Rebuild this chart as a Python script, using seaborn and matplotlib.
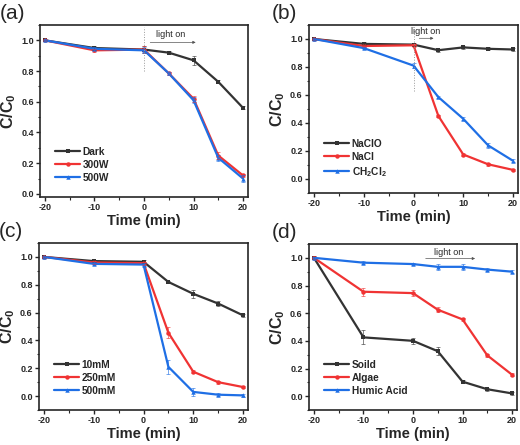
import numpy as np
import pandas as pd
import matplotlib
matplotlib.use("Agg")
import matplotlib.pyplot as plt
from matplotlib.ticker import MultipleLocator
import seaborn as sns

sns.set_style("ticks")
plt.rcParams['font.family'] = ['Liberation Sans', 'DejaVu Sans']
plt.rcParams['axes.unicode_minus'] = False
plt.rcParams['mathtext.fontset'] = 'custom'
plt.rcParams['mathtext.rm'] = 'Liberation Sans:bold'
plt.rcParams['mathtext.bf'] = 'Liberation Sans:bold'
plt.rcParams['mathtext.it'] = 'Liberation Sans:bold'
plt.rcParams['mathtext.default'] = 'bf'

time = [-20, -10, 0, 5, 10, 15, 20]

# panel (a)
a_labels = ["Dark", "300W", "500W"]
a_dark = [1.0, 0.95, 0.94, 0.92, 0.87, 0.73, 0.56]
a_300 = [1.0, 0.935, 0.94, 0.785, 0.62, 0.25, 0.12]
a_500 = [1.0, 0.945, 0.935, 0.785, 0.61, 0.235, 0.10]
a_err = [[0.005, 0.01, 0.02, 0.01, 0.03, 0.01, 0.01],
         [0.005, 0.01, 0.02, 0.01, 0.02, 0.02, 0.01],
         [0.005, 0.01, 0.02, 0.01, 0.02, 0.02, 0.02]]

# panel (b)
b_labels = ["NaClO", "NaCl", "CH$_2$Cl$_2$"]
b_naclo = [1.0, 0.965, 0.96, 0.92, 0.94, 0.93, 0.925]
b_nacl = [1.0, 0.95, 0.955, 0.45, 0.175, 0.105, 0.065]
b_ch2cl2 = [1.0, 0.935, 0.81, 0.585, 0.43, 0.24, 0.13]
b_err = [[0.005, 0.01, 0.01, 0.01, 0.01, 0.01, 0.01],
         [0.005, 0.01, 0.01, 0.01, 0.01, 0.01, 0.01],
         [0.005, 0.01, 0.02, 0.01, 0.01, 0.02, 0.01]]

# panel (c)
c_labels = ["10mM", "250mM", "500mM"]
c_10 = [1.0, 0.97, 0.965, 0.82, 0.735, 0.665, 0.58]
c_250 = [1.0, 0.96, 0.955, 0.455, 0.175, 0.10, 0.065]
c_500 = [1.0, 0.95, 0.945, 0.21, 0.03, 0.01, 0.005]
c_err = [[0.005, 0.01, 0.01, 0.01, 0.03, 0.02, 0.01],
         [0.005, 0.01, 0.01, 0.04, 0.01, 0.01, 0.01],
         [0.005, 0.01, 0.01, 0.05, 0.03, 0.01, 0.01]]

# panel (d)
d_labels = ["Soild", "Algae", "Humic Acid"]
d_soil = [1.0, 0.425, 0.40, 0.325, 0.105, 0.05, 0.02]
d_algae = [1.0, 0.755, 0.745, 0.625, 0.555, 0.295, 0.155]
d_humic = [1.0, 0.965, 0.955, 0.935, 0.935, 0.915, 0.90]
d_err = [[0.01, 0.05, 0.02, 0.03, 0.01, 0.01, 0.01],
         [0.01, 0.03, 0.02, 0.02, 0.01, 0.01, 0.01],
         [0.005, 0.01, 0.01, 0.02, 0.02, 0.01, 0.01]]

colors = ["#333333", "#f03333", "#1f6fe5"]
markers = ["s", "o", "^"]

fig = plt.figure(figsize=(5.2, 4.45), dpi=100)

panels = [
    ("(a)", a_labels, [a_dark, a_300, a_500], a_err, [40, 25, 208, 172], (-0.02, 1.1)),
    ("(b)", b_labels, [b_naclo, b_nacl, b_ch2cl2], b_err, [309, 25, 209, 168], (-0.1, 1.1)),
    ("(c)", c_labels, [c_10, c_250, c_500], c_err, [39, 243, 209, 167], (-0.1, 1.1)),
    ("(d)", d_labels, [d_soil, d_algae, d_humic], d_err, [309, 244, 208, 166], (-0.1, 1.1)),
]

W, H = 520, 445
axes = []
for tag, labels, series, errs, (l, t, w, h), ylim in panels:
    ax = fig.add_axes([l / W, 1 - (t + h) / H, w / W, h / H])
    axes.append(ax)
    rows = []
    for lab, vals in zip(labels, series):
        for x, v in zip(time, vals):
            rows.append({"Time": x, "C": v, "Series": lab})
    df = pd.DataFrame(rows)
    sns.lineplot(data=df, x="Time", y="C", hue="Series", style="Series",
                 palette=dict(zip(labels, colors)),
                 markers=dict(zip(labels, markers)), dashes=False,
                 linewidth=1.6, markersize=3.2, markeredgewidth=0,
                 ax=ax, legend=True)
    for vals, e, col in zip(series, errs, colors):
        ax.errorbar(time, vals, yerr=e, fmt="none", ecolor=col, elinewidth=0.6,
                    capsize=1.2, capthick=0.6, alpha=0.7)
    ax.set_xlim(-21, 21)
    ax.set_ylim(*ylim)
    ax.xaxis.set_major_locator(MultipleLocator(10))
    ax.xaxis.set_minor_locator(MultipleLocator(5))
    ax.yaxis.set_minor_locator(MultipleLocator(0.1))
    ax.set_yticks(np.arange(0, 1.01, 0.2))
    ax.set_yticklabels([f"{v:.1f}" for v in np.arange(0, 1.01, 0.2)])
    ax.tick_params(which="major", direction="out", length=3, width=1.0,
                   labelsize=6.5, pad=1.5)
    ax.tick_params(which="minor", direction="out", length=1.8, width=0.8)
    for lbl in ax.get_xticklabels() + ax.get_yticklabels():
        lbl.set_fontweight("bold")
    for sp in ax.spines.values():
        sp.set_linewidth(1.2)
        sp.set_visible(True)
    ax.set_xlabel("Time (min)", fontsize=10.5, fontweight="bold", labelpad=1)
    ax.set_ylabel("C/C$_0$", fontsize=11.5, fontweight="bold", labelpad=2)
    leg = ax.legend(loc="lower left", frameon=False, fontsize=7.3,
                    handlelength=2.4, handletextpad=0.3, labelspacing=0.3,
                    borderaxespad=0.5, bbox_to_anchor=(0.03, 0.03))
    for txt in leg.get_texts():
        txt.set_fontweight("bold")
    fig.text(l / W - 0.077 + (0.005 if tag in ("(b)", "(d)") else 0.0),
             1 - (t - 2) / H, tag, fontsize=15, ha="left", va="bottom")

# light-on annotations
ax = axes[0]
ax.plot([0, 0], [0.8, 1.09], color="#999999", lw=0.7, ls=":")
ax.annotate("", xy=(11, 0.987), xytext=(0.7, 0.987),
            arrowprops=dict(arrowstyle="-|>", color="#555555", lw=0.5,
                            mutation_scale=4))
ax.text(5.4, 1.035, "light on", fontsize=6.5, ha="center", va="center")

ax = axes[1]
ax.plot([0, 0], [0.63, 1.07], color="#999999", lw=0.7, ls=":")
ax.annotate("", xy=(4.6, 1.005), xytext=(0.6, 1.005),
            arrowprops=dict(arrowstyle="-|>", color="#555555", lw=0.5,
                            mutation_scale=4))
ax.text(2.5, 1.05, "light on", fontsize=6.5, ha="center", va="center")

ax = axes[3]
ax.annotate("", xy=(13.1, 0.995), xytext=(2.0, 0.995),
            arrowprops=dict(arrowstyle="-|>", color="#555555", lw=0.5,
                            mutation_scale=4))
ax.text(7.1, 1.04, "light on", fontsize=6.5, ha="center", va="center")

fig.savefig("out.png", dpi=100)
